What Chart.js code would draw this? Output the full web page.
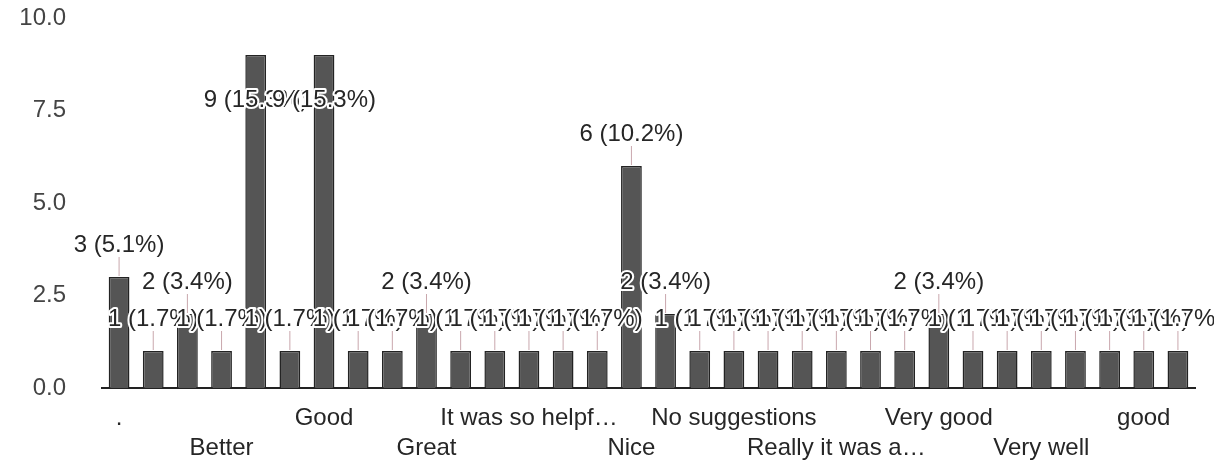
<!DOCTYPE html>
<html>
<head>
<meta charset="utf-8">
<script src="https://cdn.jsdelivr.net/npm/chart.js@4.4.1/dist/chart.umd.min.js"></script>
<style>
  html, body { margin: 0; padding: 0; background: #fff; }
  #wrap { width: 1214px; height: 471px; }
</style>
</head>
<body>
<div id="wrap"><canvas id="answers" width="1214" height="471"></canvas></div>
<script>
// responses, sorted the way the form lists them
const categories = [
  '.', 'All good', 'Awesome', 'Better', 'Excellent', 'Fine', 'Good', 'Good experience',
  'Good work', 'Great', 'Helpful', 'It is useful', 'It was so helpf…', "It's good", 'Keep it up', 'Nice',
  'Nice one', 'No', 'No suggestions', 'Nothing', 'Ok', 'Really it was a…', 'Satisfied', 'Super',
  'Very good', 'Very helpful', 'Very nice', 'Very well', 'Well done', 'Wonderful', 'good', 'nice'
];
const counts = [
  3, 1, 2, 1, 9, 1, 9, 1,
  1, 2, 1, 1, 1, 1, 1, 6,
  2, 1, 1, 1, 1, 1, 1, 1,
  2, 1, 1, 1, 1, 1, 1, 1
];
const yTicks = [0, 2.5, 5, 7.5, 10];

const total = counts.reduce((a, b) => a + b, 0);
const FONT = '"Liberation Sans", Arial, sans-serif';

// annotation labels "n (p%)" with a little stem, drawn after the bars
const countLabels = {
  id: 'countLabels',
  afterDatasetsDraw(chart) {
    const ctx = chart.ctx;
    const area = chart.chartArea;
    const bars = chart.getDatasetMeta(0).data;
    ctx.save();
    ctx.font = '24px ' + FONT;
    ctx.textAlign = 'center';
    ctx.textBaseline = 'middle';
    bars.forEach((bar, i) => {
      const v = counts[i];
      const txt = v + ' (' + (v / total * 100).toFixed(1) + '%)';
      let y = bar.y - 32;
      let stem = true;
      // no room above the tallest bars: the label sits over the bar
      if (y - 12 < area.top) { y = bar.y + 45; stem = false; }
      if (stem) {
        ctx.strokeStyle = '#c9a7ad';
        ctx.lineWidth = 1;
        ctx.beginPath();
        ctx.moveTo(bar.x, y + 12);
        ctx.lineTo(bar.x, bar.y - 1);
        ctx.stroke();
      }
      ctx.lineJoin = 'round';
      ctx.strokeStyle = '#fff';
      ctx.lineWidth = 4;
      ctx.strokeText(txt, bar.x, y);
      ctx.fillStyle = '#262626';
      ctx.fillText(txt, bar.x, y);
    });
    ctx.restore();
  }
};

// pull the value labels away from the plot without the extra top/bottom padding
const yLabelGap = {
  id: 'yLabelGap',
  afterLayout(chart) {
    const y = chart.scales.y;
    y.right = y.left + 66;
  }
};

new Chart(document.getElementById('answers').getContext('2d'), {
  type: 'bar',
  data: {
    labels: categories,
    datasets: [{
      data: counts,
      backgroundColor: '#555555',
      borderColor: '#232323',
      borderWidth: 1.5,
      barPercentage: 0.64,
      categoryPercentage: 0.95
    }]
  },
  options: {
    responsive: false,
    animation: false,
    layout: { padding: { top: 18, right: 19, bottom: 0, left: 0 } },
    scales: {
      x: {
        afterFit: s => { s.height = 83; },
        grid: { display: false, drawTicks: false },
        border: { display: true, color: '#222', width: 2 },
        ticks: {
          autoSkip: false,
          maxRotation: 0,
          padding: 15,
          color: '#262626',
          font: { family: FONT, size: 24, lineHeight: 1.25 },
          callback: function (value, index) {
            if (index % 3 !== 0) return '';
            const label = this.getLabelForValue(value);
            return (index / 3) % 2 === 0 ? label : ['', label];
          }
        }
      },
      y: {
        min: 0,
        max: 10,
        afterFit: s => { s.width = 102; },
        afterBuildTicks: s => { s.ticks = yTicks.map(v => ({ value: v })); },
        grid: { display: false, drawTicks: false },
        border: { display: false },
        ticks: {
          padding: 0,
          color: '#444',
          font: { family: FONT, size: 24 },
          callback: v => v.toFixed(1)
        }
      }
    },
    plugins: {
      legend: { display: false },
      tooltip: { enabled: false }
    }
  },
  plugins: [countLabels, yLabelGap]
});
</script>
</body>
</html>
